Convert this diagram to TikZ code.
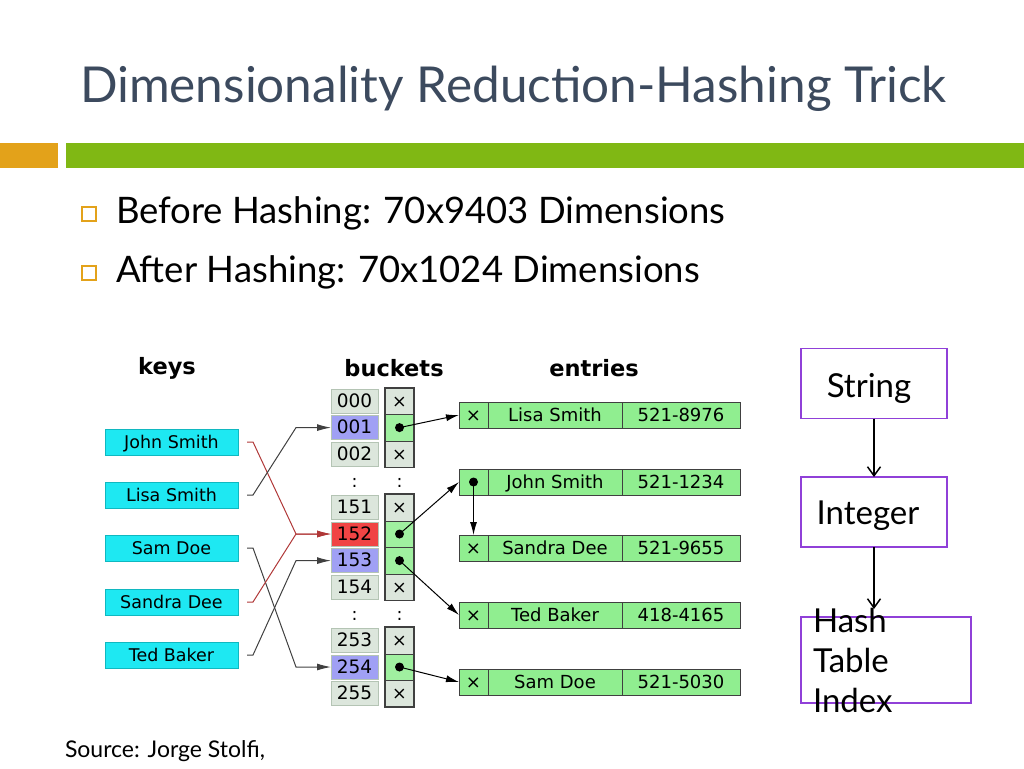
\documentclass[tikz,border=0pt]{standalone}
\usepackage{fontspec}
\setmainfont{Lato}
\newfontfamily\diagfont{DejaVu Sans}
\usepackage{tikz}
\usetikzlibrary{positioning, arrows.meta, calc}

\definecolor{titlegray}{HTML}{3C4A5E}
\definecolor{barorange}{HTML}{E3A21A}
\definecolor{bargreen}{HTML}{80B814}
\definecolor{keycyan}{HTML}{1EE8F2}
\definecolor{keyedge}{HTML}{10B8C0}
\definecolor{cgray}{HTML}{DCE6DC}
\definecolor{cgrayedge}{HTML}{B4C4B4}
\definecolor{cblue}{HTML}{A0A0F4}
\definecolor{cred}{HTML}{F04444}
\definecolor{cgreen}{HTML}{A0F0A0}
\definecolor{entgreen}{HTML}{90EE90}
\definecolor{celledge}{HTML}{404040}
\definecolor{linered}{HTML}{B03838}
\definecolor{boxpurple}{HTML}{9040D8}

\begin{document}
\begin{tikzpicture}[x=1pt, y=-1pt,
    every node/.style={inner sep=0pt, outer sep=0pt},
    dtext/.style={font=\diagfont\fontsize{17.5}{18}\selectfont, text height=12.5pt, text depth=0pt},
    head/.style={font=\diagfont\bfseries\fontsize{22.5}{24}\selectfont},
    keybox/.style={rectangle, draw=keyedge, fill=keycyan, minimum width=133pt, minimum height=26pt, dtext},
    idx/.style={rectangle, draw=cgrayedge, fill=cgray, minimum width=47pt, minimum height=24pt, dtext, font=\diagfont\fontsize{18.5}{19}\selectfont},
    idxb/.style={idx, fill=cblue},
    idxr/.style={idx, fill=cred},
    nil/.style={rectangle, draw=celledge, fill=cgray, minimum width=29pt, minimum height=26.6pt, dtext},
    ptr/.style={nil, fill=cgreen},
    entcell/.style={rectangle, draw=celledge, fill=entgreen, minimum height=26pt, dtext, font=\diagfont\fontsize{18}{18}\selectfont},
    entptr/.style={entcell},
    groupline/.style={draw=celledge, line width=1.4pt},
    keyline/.style={-{Latex[length=14pt,width=7pt]}, line width=1pt, draw=black!75},
    ptrarrow/.style={-{Latex[length=13pt,width=7pt]}, line width=1pt},
    hashbox/.style={rectangle, draw=boxpurple, line width=1.8pt},
    flowtext/.style={font=\fontsize{33}{40}\selectfont},
    flow/.style={-{Straight Barb[length=9pt,width=13pt]}, line width=1.5pt},
    bulletbox/.style={rectangle, draw=barorange, line width=1.2pt, minimum size=14pt},
    bullettext/.style={anchor=base west, font=\fontsize{36.5}{40}\selectfont}
]
    \useasboundingbox (0,0) rectangle (1024,768);

    % Title and bars
    \node[anchor=base west, text=titlegray, font=\fontsize{49.5}{60}\selectfont] (title) at (80,102) {Dimensionality Reduction-Hashing Trick};
    \fill[barorange] (0,143) rectangle (58,168);
    \fill[bargreen] (66,143) rectangle (1024,168);

    % Bullets
    \node[bulletbox] (sq1) at (89,214) {};
    \node[bullettext] (before) at (116,223) {Before Hashing: 70x9403 Dimensions};
    \node[bulletbox] (sq2) at (89,273) {};
    \node[bullettext] (after) at (116,282) {After Hashing: 70x1024 Dimensions};

    % Headings
    \node[head] (hkeys) at (167,368) {keys};
    \node[head] (hbuckets) at (394,368) {buckets};
    \node[head] (hentries) at (594,368) {entries};

    % Keys
    \foreach \id/\name/\yy in {john/John Smith/442, lisa/Lisa Smith/495, sam/Sam Doe/548, sandra/Sandra Dee/602, ted/Ted Baker/655}
        \node[keybox] (k-\id) at (171.5,\yy) {\name};

    % Buckets
    \foreach \r/\lab/\kind/\cell/\sym in {0/000/idx/nil/×, 1/001/idxb/ptr/{}, 2/002/idx/nil/×,
        4/151/idx/nil/×, 5/152/idxr/ptr/{}, 6/153/idxb/ptr/{}, 7/154/idx/nil/×,
        9/253/idx/nil/×, 10/254/idxb/ptr/{}, 11/255/idx/nil/×} {
        \node[\kind] (b\lab) at (354.5,401+26.6*\r) {\lab};
        \node[\cell] (p\lab) at (399.5,401+26.6*\r) {\sym};
    }
    \foreach \r/\n in {3/1, 8/2} {
        \node[dtext] (dotsb\n) at (354.5,401+26.6*\r) {:};
        \node[dtext] (dotsp\n) at (399.5,401+26.6*\r) {:};
    }
    \draw[groupline] (p000.north west) rectangle (p002.south east);
    \draw[groupline] (p151.north west) rectangle (p154.south east);
    \draw[groupline] (p253.north west) rectangle (p255.south east);

    % Entries
    \foreach \id/\name/\num/\yy/\cell/\sym in {lisa/Lisa Smith/521-8976/415/entcell/×, john/John Smith/521-1234/482/entptr/{},
        sandra/Sandra Dee/521-9655/548/entcell/×, ted/Ted Baker/418-4165/615/entcell/×, sam/Sam Doe/521-5030/682/entcell/×} {
        \node[\cell, minimum width=29pt] (ep-\id) at (473.5,\yy) {\sym};
        \node[entcell, minimum width=134pt, right=0pt of ep-\id] (en-\id) {\name};
        \node[entcell, minimum width=118pt, right=0pt of en-\id] (et-\id) {\num};
    }

    % Pointer dots
    \foreach \p in {p001, p152, p153, p254, ep-john}
        \fill (\p.center) circle (4.5pt);

    % Hash arrows
    \draw[keyline, draw=linered] ([xshift=9pt]k-john.east) -- ++(6,0) -- ([xshift=-35pt]b152.west) -- (b152.west);
    \draw[keyline] ([xshift=9pt]k-lisa.east) -- ++(6,0) -- ([xshift=-35pt]b001.west) -- (b001.west);
    \draw[keyline] ([xshift=9pt]k-sam.east) -- ++(6,0) -- ([xshift=-35pt]b254.west) -- (b254.west);
    \draw[keyline, draw=linered] ([xshift=9pt]k-sandra.east) -- ++(6,0) -- ([xshift=-35pt]b152.west) -- (b152.west);
    \draw[keyline] ([xshift=9pt]k-ted.east) -- ++(6,0) -- ([xshift=-35pt]b153.west) -- (b153.west);

    % Pointer arrows
    \draw[ptrarrow] (p001.center) -- (ep-lisa.west);
    \draw[ptrarrow] (p152.center) -- (ep-john.west);
    \draw[ptrarrow] (p153.center) -- (ep-ted.west);
    \draw[ptrarrow] (p254.center) -- (ep-sam.west);
    \draw[ptrarrow] (ep-john.center) -- (ep-sandra.north);

    % Flow on the right
    \node[hashbox, minimum width=146pt, minimum height=70pt] (string) at (874,383.5) {};
    \node[flowtext, anchor=base] (stringtxt) at (869,397) {String};
    \node[hashbox, minimum width=146pt, minimum height=70pt] (integer) at (874,512) {};
    \node[flowtext, anchor=base] (integertxt) at (868,524) {Integer};
    \node[hashbox, minimum width=170pt, minimum height=86pt] (index) at (886,660) {};
    \node[flowtext, text width=146pt, align=left] (indextxt) at (index.center) {Hash\\Table\\Index};
    \draw[flow] (string.south) -- (integer.north);
    \draw[flow, shorten >=8pt] (integer.south) -- (integer.south |- index.north);

    % Source
    \node[anchor=base west, font=\fontsize{23}{26}\selectfont] (source) at (65,757) {Source: Jorge Stolfi,};
\end{tikzpicture}
\end{document}
